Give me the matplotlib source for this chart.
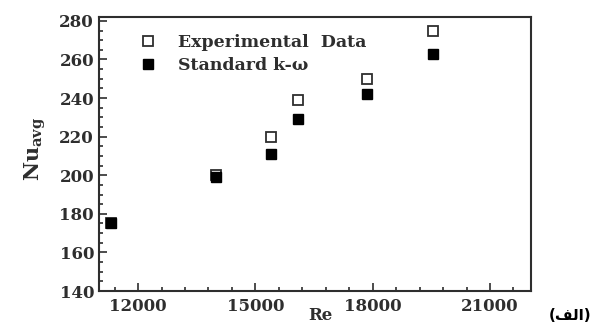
import matplotlib
matplotlib.use('Agg')
import matplotlib.pyplot as plt
from matplotlib.ticker import MultipleLocator

plt.rcParams['font.family'] = ['DejaVu Serif']
plt.rcParams['mathtext.fontset'] = 'custom'
plt.rcParams['mathtext.rm'] = 'DejaVu Serif:bold'

# data
re_exp = [11300, 14000, 15400, 16100, 17850, 19550]
nu_exp = [175, 200, 220, 239, 250, 275]
re_kw = [11300, 14000, 15400, 16100, 17850, 19550]
nu_kw = [175, 199, 211, 229, 242, 263]

x_ticks = [12000, 15000, 18000, 21000]
y_ticks = [140, 160, 180, 200, 220, 240, 260, 280]

ink = '#2e2e2e'

fig = plt.figure(figsize=(5.92, 3.27), dpi=100)
ax = fig.add_axes([0.1672, 0.110, 0.7298, 0.838])

ax.plot(re_exp, nu_exp, ls='none', marker='s', ms=7, mfc='white', mec=ink, mew=1.3,
        label='Experimental  Data')
ax.plot(re_kw, nu_kw, ls='none', marker='s', ms=7.5, mfc='black', mec='black',
        label='Standard k-\u03c9')

ax.set_xlim(11000, 22050)
ax.set_ylim(140, 282)
ax.set_xticks(x_ticks)
ax.set_yticks(y_ticks)
ax.xaxis.set_minor_locator(MultipleLocator(600))
ax.yaxis.set_minor_locator(MultipleLocator(5))
ax.tick_params(which='both', direction='in', top=False, right=False,
               colors=ink, labelsize=12, width=1.2)
ax.tick_params(which='major', length=6)
ax.tick_params(which='minor', length=3)
ax.tick_params(axis='x', pad=5)
for lab in ax.get_xticklabels() + ax.get_yticklabels():
    lab.set_fontweight('bold')
for s in ax.spines.values():
    s.set_color(ink)
    s.set_linewidth(1.5)

ax.set_xlabel('Re', fontsize=12, fontweight='bold', color=ink)
ax.xaxis.set_label_coords(0.512, -0.06)
ax.set_ylabel(r'$\mathrm{Nu}_{\mathrm{avg}}$', fontsize=15, color=ink)
ax.yaxis.set_label_coords(-0.118, 0.52)

leg = ax.legend(loc='upper left', bbox_to_anchor=(0.058, 0.995), frameon=False,
                fontsize=12.5, handlelength=1.0, handletextpad=1.2, labelspacing=0.35,
                labelcolor=ink)
for t in leg.get_texts():
    t.set_fontweight('bold')

fig.text(0.999, 0.012, '(\ufed2\ufedf\ufe8d)', ha='right', va='bottom',
         fontsize=11, fontweight='bold', family=['DejaVu Sans'])

fig.savefig('out.png', dpi=100)
